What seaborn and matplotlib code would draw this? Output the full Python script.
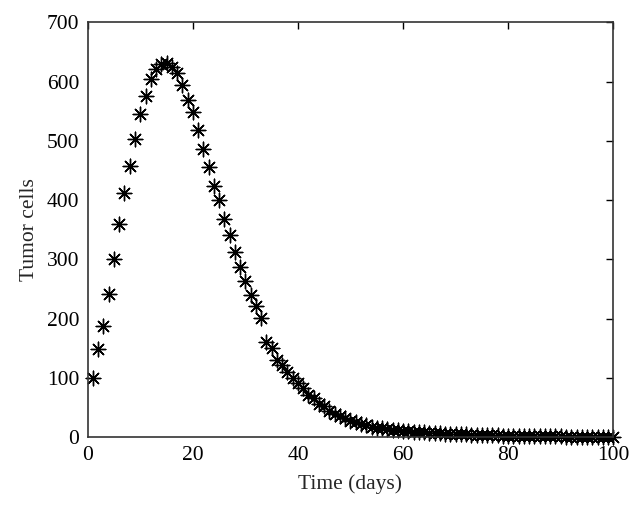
import matplotlib
matplotlib.use("Agg")
import matplotlib.pyplot as plt
import seaborn as sns
import pandas as pd

days = list(range(1, 101))
tumor_cells = [
    100, 149, 187, 241, 300, 360, 412, 458, 503, 545,
    576, 604, 621, 629, 631, 625, 614, 595, 569, 549,
    519, 487, 456, 424, 400, 369, 341, 313, 288, 263,
    240, 221, 201, 161, 150, 130, 122, 111, 100, 91,
    83, 71, 66, 57, 52, 45, 40, 36, 32, 28,
    25, 22, 20, 18, 16.5, 15, 14, 13, 12, 11,
    10.3, 9.6, 9, 8.4, 7.8, 7.3, 6.8, 6.3, 5.9, 5.5,
    5.1, 4.8, 4.5, 4.2, 3.9, 3.6, 3.4, 3.1, 2.9, 2.7,
    2.5, 2.3, 2.2, 2.0, 1.9, 1.8, 1.7, 1.6, 1.5, 1.4,
    1.3, 1.2, 1.1, 1.0, 1.0, 0.9, 0.9, 0.8, 0.8, 0.7,
]
x_ticks = [0, 20, 40, 60, 80, 100]
y_ticks = [0, 100, 200, 300, 400, 500, 600, 700]

df = pd.DataFrame({"Time (days)": days, "Tumor cells": tumor_cells})

sns.set_style("white")
plt.rcParams["font.family"] = ["Liberation Serif", "DejaVu Serif"]

fig = plt.figure(figsize=(6.42, 5.11), dpi=100)
ax = fig.add_axes([0.1366, 0.1442, 0.8187, 0.8122])

sns.scatterplot(data=df, x="Time (days)", y="Tumor cells", ax=ax,
                marker=(8, 2, 0), s=110, color="black", linewidth=1.0,
                edgecolor="black", clip_on=False)

ax.set_xlim(0, 100)
ax.set_ylim(0, 700)
ax.set_xticks(x_ticks)
ax.set_yticks(y_ticks)
ax.tick_params(direction="in", length=5, width=1, top=True, right=True,
               labelsize=15.5, colors="black", pad=6)
for s in ax.spines.values():
    s.set_visible(True)
    s.set_color("#333333")
    s.set_linewidth(1.2)
ax.set_xlabel("Time (days)", fontsize=15.5, labelpad=7)
ax.set_ylabel("Tumor cells", fontsize=15.5, labelpad=6)

fig.savefig("out.png", dpi=100)
